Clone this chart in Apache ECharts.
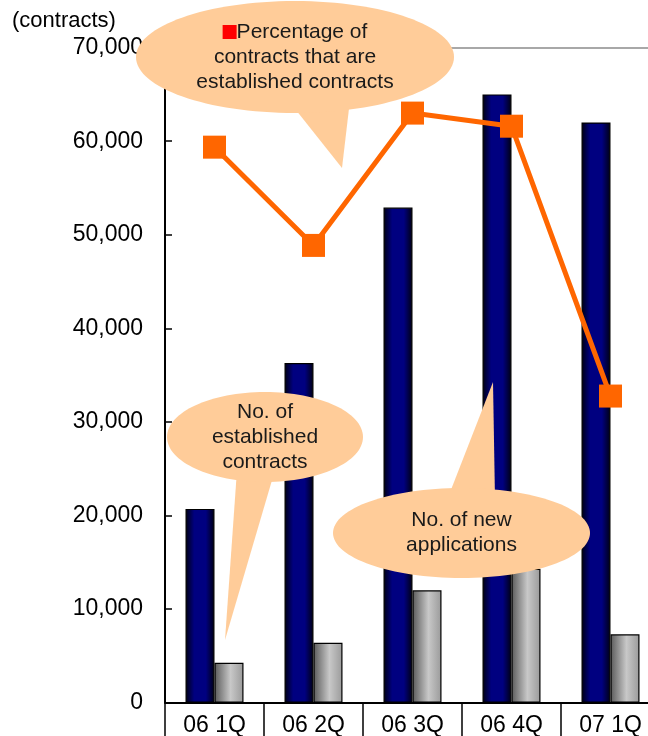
<!DOCTYPE html>
<html>
<head>
<meta charset="utf-8">
<script src="https://cdn.jsdelivr.net/npm/echarts@6/dist/echarts.min.js"></script>
<style>html,body{margin:0;padding:0;background:#fff}#c{width:648px;height:736px}</style>
</head>
<body>
<div id="c"></div>
<script>
const categories = ['06 1Q', '06 2Q', '06 3Q', '06 4Q', '07 1Q'];
const newApplications = [20700, 36300, 52900, 65000, 62000];
const establishedContracts = [4260, 6400, 12000, 14300, 7300];
const establishedPercent = [21.2, 17.45, 22.5, 22.0, 11.7];
const yTicks = [0, 10000, 20000, 30000, 40000, 50000, 60000, 70000];

const FONT = '"Liberation Sans", Arial, sans-serif';
const BUBBLE = '#FFCC99';

const chart = echarts.init(document.getElementById('c'), null, {renderer: 'canvas'});

function bubble(cx, cy, rx, ry, tail, text, rich) {
  return [
    {type: 'polygon', z: 100, shape: {points: tail}, style: {fill: BUBBLE}},
    {type: 'ellipse', z: 100, shape: {cx: cx, cy: cy, rx: rx, ry: ry}, style: {fill: BUBBLE},
     textContent: {z: 101, style: {text: text, font: '21px ' + FONT, fill: '#1a1a1a', lineHeight: 25, align: 'center', rich: rich || {}}},
     textConfig: {position: 'inside'}}
  ];
}

chart.setOption({
  animation: false,
  grid: {left: 165, top: 47.6, width: 495, height: 655, outerBoundsMode: 'none', containLabel: false},
  xAxis: [{
    type: 'category', data: categories, position: 'bottom',
    axisLine: {lineStyle: {color: '#000', width: 2}},
    axisTick: {show: true, inside: false, length: 40, interval: 0, lineStyle: {color: '#000', width: 1.5}},
    axisLabel: {interval: 0, color: '#000', fontSize: 23, fontFamily: FONT, margin: 12, lineHeight: 23}
  }, {
    type: 'category', data: categories, position: 'top',
    axisLine: {show: true, onZero: false, lineStyle: {color: '#8c8c8c', width: 1.5}},
    axisTick: {show: false}, axisLabel: {show: false}
  }],
  yAxis: [{
    type: 'value', min: yTicks[0], max: yTicks[yTicks.length - 1], interval: 10000,
    axisLine: {show: true, lineStyle: {color: '#000', width: 2}},
    axisTick: {show: true, inside: true, length: 7, lineStyle: {color: '#000', width: 1.5}},
    splitLine: {show: false},
    axisLabel: {color: '#000', fontSize: 23, fontFamily: FONT, margin: 22,
      formatter: v => v.toLocaleString('en-US')}
  }, {
    type: 'value', min: 0, max: 25, show: false, splitLine: {show: false}
  }],
  series: [{
    name: 'No. of new applications', type: 'bar', data: newApplications,
    barWidth: 29, barGap: '0%',
    itemStyle: {
      borderColor: '#000', borderWidth: 1.2,
      color: {type: 'linear', x: 0, y: 0, x2: 1, y2: 0, colorStops: [
        {offset: 0, color: '#000011'}, {offset: 0.3, color: '#000080'},
        {offset: 0.7, color: '#000080'}, {offset: 1, color: '#000011'}]}
    }
  }, {
    name: 'No. of established contracts', type: 'bar', data: establishedContracts,
    barWidth: 29,
    itemStyle: {
      borderColor: '#000', borderWidth: 1.2,
      color: {type: 'linear', x: 0, y: 0, x2: 1, y2: 0, colorStops: [
        {offset: 0, color: '#5a5a5a'}, {offset: 0.55, color: '#c8c8c8'},
        {offset: 1, color: '#9a9a9a'}]}
    }
  }, {
    name: 'Percentage of contracts that are established contracts', type: 'line',
    yAxisIndex: 1, data: establishedPercent,
    symbol: 'rect', symbolSize: 23,
    lineStyle: {color: '#FF6600', width: 5},
    itemStyle: {color: '#FF6600'}, z: 5
  }],
  graphic: [
    {type: 'text', z: 100, style: {text: '(contracts)', x: 12, y: 21, font: '22px ' + FONT, fill: '#000', textVerticalAlign: 'middle', verticalAlign: 'middle'}},
    ...bubble(295, 57, 159, 56, [[288, 100], [350, 100], [342, 168]],
      '{sq|}Percentage of\ncontracts that are\nestablished contracts',
      {sq: {width: 14, height: 14, backgroundColor: '#FF0000', padding: 0}}),
    ...bubble(265, 437, 98, 45, [[237, 470], [275, 470], [225, 640]],
      'No. of\nestablished\ncontracts'),
    ...bubble(461.5, 533, 128.5, 45, [[447, 500], [495, 500], [493, 382]],
      'No. of new\napplications')
  ]
});
</script>
</body>
</html>
